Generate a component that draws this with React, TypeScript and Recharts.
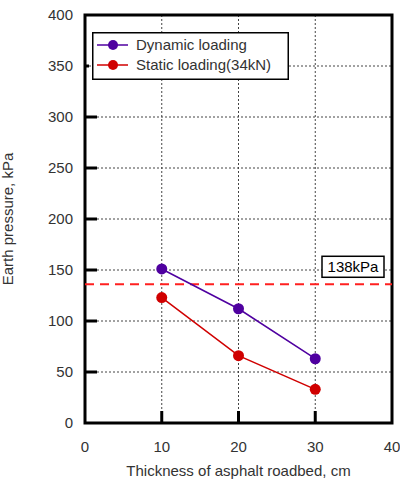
import React from 'react';
import {
  LineChart, Line, XAxis, YAxis, CartesianGrid, ReferenceLine, ReferenceArea, Legend,
} from 'recharts';

const thickness = [10, 20, 30];
const dynamicLoading = [151, 112, 63];
const staticLoading = [123, 66, 33];
const xTicks = [0, 10, 20, 30, 40];
const yTicks = [0, 50, 100, 150, 200, 250, 300, 350, 400];
const limitValue = 136;
const limitLabel = '138kPa';

const data = thickness.map((t, i) => ({
  t,
  dynamic: dynamicLoading[i],
  static: staticLoading[i],
}));

const FONT = '"Liberation Sans", Arial, sans-serif';
const TEXT = '#333';
const PURPLE = '#4f00a0';
const RED = '#d00000';

// tick marks point inward, so draw them with the label
const YTick = (props: any) => {
  const { y, payload } = props;
  const len = payload.value === 350 ? 4 : 12;
  return (
    <g>
      {payload.value > 0 && payload.value < 400 && (
        <line x1={85} x2={85 + len} y1={y} y2={y} stroke="#000" strokeWidth={3} />
      )}
      <text x={73} y={y} dy={5} textAnchor="end" fontSize={15} fill={TEXT} fontFamily={FONT}>
        {payload.value}
      </text>
    </g>
  );
};

const XTick = (props: any) => {
  const { x, payload } = props;
  return (
    <g>
      {payload.value > 0 && payload.value < 40 && (
        <line x1={x} x2={x} y1={423} y2={411} stroke="#000" strokeWidth={3} />
      )}
      <text x={x} y={452} textAnchor="middle" fontSize={15} fill={TEXT} fontFamily={FONT}>
        {payload.value}
      </text>
    </g>
  );
};

const LimitLabel = (props: any) => {
  const { viewBox } = props;
  const right = viewBox.x + viewBox.width;
  const top = viewBox.y - 28;
  return (
    <g>
      <rect x={right - 70} y={top} width={62} height={21} fill="#fff" stroke="#000" strokeWidth={1.5} />
      <text x={right - 39} y={top + 16} textAnchor="middle" fontSize={15} fill="#000" fontFamily={FONT}>
        {limitLabel}
      </text>
    </g>
  );
};

const LegendBox = () => {
  const items = [
    { name: 'Dynamic loading', color: PURPLE },
    { name: 'Static loading(34kN)', color: RED },
  ];
  return (
    <svg width={197} height={48} style={{ display: 'block' }}>
      <rect x={0.75} y={0.75} width={195.5} height={46.5} fill="#fff" stroke="#000" strokeWidth={1.5} />
      {items.map((it, i) => (
        <g key={it.name}>
          <line x1={5} x2={36} y1={13 + i * 20} y2={13 + i * 20} stroke={it.color} strokeWidth={1.5} />
          <circle cx={21} cy={13 + i * 20} r={5} fill={it.color} />
          <text x={44} y={18 + i * 20} fontSize={15} fill={TEXT} fontFamily={FONT}>
            {it.name}
          </text>
        </g>
      ))}
    </svg>
  );
};

const App: React.FC = () => {
  return (
    <div style={{ position: 'absolute', left: 0, top: 0, background: '#fff' }}>
      <LineChart width={400} height={482} data={data} margin={{ top: 15, right: 8, left: 0, bottom: 0 }}>
        <CartesianGrid stroke="#444" strokeDasharray="2 2" strokeWidth={1} />
        <XAxis
          dataKey="t"
          type="number"
          domain={[0, 40]}
          ticks={xTicks}
          height={59}
          axisLine={false}
          tickLine={false}
          tick={<XTick />}
          interval={0}
          label={{ value: 'Thickness of asphalt roadbed, cm', position: 'insideBottom', offset: 6, fontSize: 15, fill: TEXT, fontFamily: FONT }}
        />
        <YAxis
          type="number"
          domain={[0, 400]}
          ticks={yTicks}
          width={85}
          axisLine={false}
          tickLine={false}
          tick={<YTick />}
          interval={0}
          label={{ value: 'Earth pressure, kPa', angle: -90, position: 'insideLeft', offset: 8, fontSize: 15, fill: TEXT, fontFamily: FONT, style: { textAnchor: 'middle' } }}
        />
        <ReferenceArea x1={0} x2={40} y1={0} y2={400} fill="none" stroke="#000" strokeWidth={3} ifOverflow="visible" />
        <ReferenceLine y={limitValue} stroke="#ff2020" strokeWidth={2} strokeDasharray="9 6" label={<LimitLabel />} />
        <Legend
          layout="vertical"
          align="center"
          verticalAlign="middle"
          wrapperStyle={{ top: 32, left: 92, width: 197, height: 48 }}
          content={() => <LegendBox />}
        />
        <Line
          dataKey="dynamic"
          name="Dynamic loading"
          stroke={PURPLE}
          strokeWidth={1.5}
          dot={{ r: 5.5, fill: PURPLE, stroke: PURPLE, strokeWidth: 0 }}
          isAnimationActive={false}
        />
        <Line
          dataKey="static"
          name="Static loading(34kN)"
          stroke={RED}
          strokeWidth={1.5}
          dot={{ r: 5.5, fill: RED, stroke: RED, strokeWidth: 0 }}
          isAnimationActive={false}
        />
      </LineChart>
    </div>
  );
};

export default App;
